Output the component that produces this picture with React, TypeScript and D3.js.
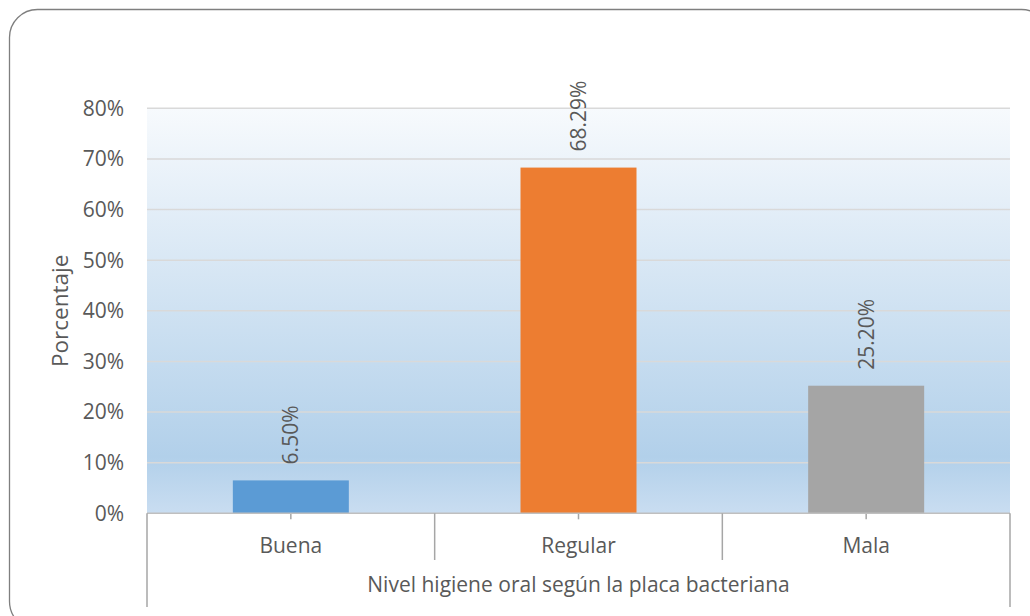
import React from "react";
import * as d3 from "d3";

const categories = ["Buena", "Regular", "Mala"];
const values = [0.065, 0.6829, 0.252];
const valueLabels = ["6.50%", "68.29%", "25.20%"];
const barColors = ["#5B9BD5", "#ED7D31", "#A5A5A5"];
const yTicks = [0, 0.1, 0.2, 0.3, 0.4, 0.5, 0.6, 0.7, 0.8];
const yTitle = "Porcentaje";
const xTitle = "Nivel higiene oral según la placa bacteriana";

const W = 1030;
const H = 616;
const left = 147;
const right = 1010;
const top = 108.3;
const bottom = 513.3;
const FONT = "'Open Sans', sans-serif";
const TXT = "#595959";
const FS = 21;

export default function App() {
  const y = d3.scaleLinear().domain([0, 0.8]).range([bottom, top]);
  const x = d3.scaleBand<string>().domain(categories).range([left, right]).padding(0);
  const barW = x.bandwidth() / 2.48;
  const fmt = d3.format(".0%");

  return (
    <svg
      width={W}
      height={H}
      style={{ position: "absolute", left: 0, top: 0, background: "#fff" }}
    >
      <defs>
        <linearGradient id="plotbg" x1="0" y1="0" x2="0" y2="1">
          <stop offset="0" stopColor="#F7FAFD" />
          <stop offset="0.86" stopColor="#B2D0EA" />
          <stop offset="1" stopColor="#C9DDF1" />
        </linearGradient>
      </defs>
      <rect x={9.5} y={9.5} width={1040} height={620} rx={28} ry={28} fill="#fff" stroke="#7F7F7F" strokeWidth={1.3} />
      <rect x={left} y={top} width={right - left} height={bottom - top} fill="url(#plotbg)" />
      {yTicks.filter((t) => t > 0).map((t) => (
        <line key={t} x1={left} x2={right} y1={y(t)} y2={y(t)} stroke="#D9D9D9" strokeWidth={1.5} />
      ))}
      {yTicks.map((t) => (
        <text key={"l" + t} x={124} y={y(t)} dy="0.35em" textAnchor="end" fontFamily={FONT} fontSize={FS} fill={TXT}>
          {fmt(t)}
        </text>
      ))}
      {categories.map((c, i) => {
        const cx = x(c)! + x.bandwidth() / 2;
        return (
          <g key={c}>
            <rect x={cx - barW / 2} y={y(values[i])} width={barW} height={bottom - y(values[i])} fill={barColors[i]} />
            <text
              transform={`translate(${cx},${y(values[i]) - 16}) rotate(-90)`}
              dy="0.35em"
              textAnchor="start"
              fontFamily={FONT}
              fontSize={FS}
              fill={TXT}
            >
              {valueLabels[i]}
            </text>
            <line x1={cx} x2={cx} y1={bottom} y2={bottom + 6} stroke="#A6A6A6" strokeWidth={1.5} />
            <text x={cx} y={553} textAnchor="middle" fontFamily={FONT} fontSize={FS} fill={TXT}>
              {c}
            </text>
          </g>
        );
      })}
      <line x1={left} x2={right} y1={bottom} y2={bottom} stroke="#BFBFBF" strokeWidth={1.5} />
      {categories.map((c, i) => {
        const bx = x(c)!;
        return i === 0 ? null : (
          <line key={"s" + c} x1={bx} x2={bx} y1={bottom} y2={560} stroke="#A6A6A6" strokeWidth={1.5} />
        );
      })}
      <line x1={left} x2={left} y1={bottom} y2={607} stroke="#A6A6A6" strokeWidth={1.5} />
      <line x1={right} x2={right} y1={bottom} y2={607} stroke="#A6A6A6" strokeWidth={1.5} />
      <text x={(left + right) / 2} y={592} textAnchor="middle" fontFamily={FONT} fontSize={FS} fill={TXT}>
        {xTitle}
      </text>
      <text
        transform={`translate(60,${(top + bottom) / 2}) rotate(-90)`}
        dy="0.35em"
        textAnchor="middle"
        fontFamily={FONT}
        fontSize={22.5}
        fill={TXT}
      >
        {yTitle}
      </text>
    </svg>
  );
}
